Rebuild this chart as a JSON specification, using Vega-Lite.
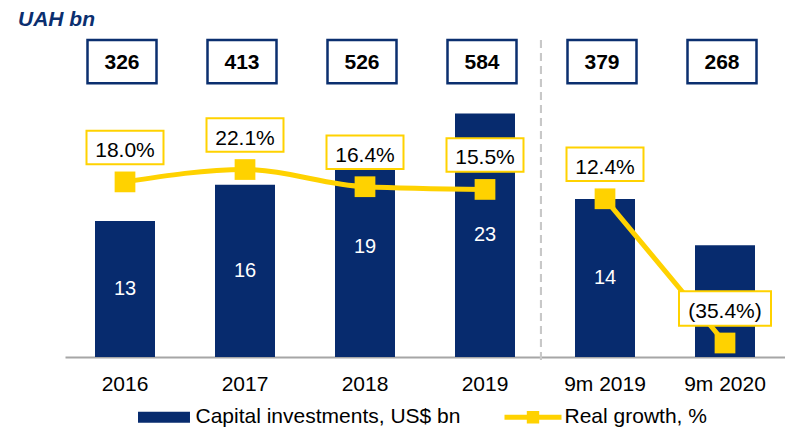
{
  "$schema": "https://vega.github.io/schema/vega-lite/v6.json",
  "width": 720,
  "height": 317,
  "autosize": {"type": "none"},
  "padding": {"left": 65, "top": 40, "right": 0, "bottom": 71},
  "background": "white",
  "config": {"view": {"stroke": null}, "font": "Liberation Sans"},
  "title": {"text": "UAH bn", "anchor": "start", "dx": -47, "dy": 22, "offset": 14, "baseline": "alphabetic", "font": "Liberation Sans", "fontSize": 21, "fontWeight": "bold", "fontStyle": "italic", "color": "#0B2F6F"},
  "data": {"values": [
    {"cat": "2016", "uah": 326, "usd": 13, "growth": 18.0, "glabel": "18.0%", "period": "annual"},
    {"cat": "2017", "uah": 413, "usd": 16, "growth": 22.1, "glabel": "22.1%", "period": "annual"},
    {"cat": "2018", "uah": 526, "usd": 19, "growth": 16.4, "glabel": "16.4%", "period": "annual"},
    {"cat": "2019", "uah": 584, "usd": 23, "growth": 15.5, "glabel": "15.5%", "period": "annual"},
    {"cat": "9m 2019", "uah": 379, "usd": 14, "growth": 12.4, "glabel": "12.4%", "period": "9m"},
    {"cat": "9m 2020", "uah": 268, "usd": null, "growth": -35.4, "glabel": "(35.4%)", "period": "9m"}
  ]},
  "encoding": {
    "x": {"field": "cat", "type": "nominal", "sort": null,
      "scale": {"paddingInner": 0.5, "paddingOuter": 0.25},
      "axis": {"title": null, "labelAngle": 0, "labelFontSize": 21, "labelColor": "#000000", "labelFont": "Liberation Sans", "ticks": false, "tickSize": 0, "labelPadding": 16, "domainColor": "#A6A6A6", "domainWidth": 2, "grid": false}}
  },
  "layer": [
    {
      "mark": {"type": "bar"},
      "encoding": {
        "y": {"field": "uah", "type": "quantitative", "scale": {"domain": [0, 760], "nice": false, "zero": false}, "axis": null},
        "color": {"datum": "Capital investments, US$ bn",
          "scale": {"domain": ["Capital investments, US$ bn", "Real growth, %"], "range": ["#072B6E", "#FFD200"]},
          "legend": {"orient": "none", "legendX": 70.5, "legendY": 348.5, "direction": "horizontal", "title": null, "padding": 0, "columnPadding": 44, "labelOffset": 3, "labelFontSize": 21, "labelFont": "Liberation Sans", "labelColor": "#000000", "labelLimit": 500, "symbolSize": 3249,
            "encode": {"symbols": {"update": {
              "shape": {"signal": "datum.value === 'Real growth, %' ? 'M-1,-0.088H-0.2175V-0.2175H0.2175V-0.088H1V0.088H0.2175V0.2175H-0.2175V0.088H-1Z' : 'M-0.912,-0.193H0.912V0.193H-0.912Z'"},
              "fill": {"signal": "datum.value === 'Real growth, %' ? '#FFD200' : '#072B6E'"},
              "stroke": {"value": "transparent"},
              "strokeWidth": {"value": 0},
              "opacity": {"value": 1},
              "size": {"value": 3249}
            }}}}}
      }
    },
    {
      "transform": [{"filter": "isValid(datum.usd)"}],
      "mark": {"type": "text", "color": "#FFFFFF", "fontSize": 20, "font": "Liberation Sans", "baseline": "middle"},
      "encoding": {
        "y": {"field": "uah", "type": "quantitative", "stack": "zero", "bandPosition": 0.5, "scale": {"domain": [0, 760], "nice": false, "zero": false}, "axis": null},
        "text": {"field": "usd", "type": "quantitative"}
      }
    },
    {
      "mark": {"type": "line", "interpolate": "monotone", "strokeWidth": 5, "strokeCap": "round"},
      "encoding": {
        "y": {"field": "growth", "type": "quantitative", "scale": {"domain": [-40.04, 65.03], "nice": false, "zero": false}, "axis": null},
        "detail": {"field": "period"},
        "color": {"datum": "Real growth, %"}
      }
    },
    {
      "mark": {"type": "point", "shape": "square", "filled": true, "size": 430, "opacity": 1},
      "encoding": {
        "y": {"field": "growth", "type": "quantitative", "scale": {"domain": [-40.04, 65.03], "nice": false, "zero": false}, "axis": null},
        "color": {"datum": "Real growth, %"}
      }
    },
    {
      "mark": {"type": "point", "filled": true, "fill": "#FFFFFF", "stroke": "#FFD200", "strokeWidth": 2, "opacity": 1, "yOffset": -34.5},
      "encoding": {
        "y": {"field": "growth", "type": "quantitative", "scale": {"domain": [-40.04, 65.03], "nice": false, "zero": false}, "axis": null},
        "shape": {"condition": {"test": "datum.growth < 0", "value": "M-1,-0.375H1V0.375H-1Z"}, "value": "M-1,-0.435H1V0.435H-1Z"},
        "size": {"condition": {"test": "datum.growth < 0", "value": 8464}, "value": 5929}
      }
    },
    {
      "mark": {"type": "text", "color": "#000000", "fontSize": 21, "font": "Liberation Sans", "baseline": "middle", "yOffset": -31},
      "encoding": {
        "y": {"field": "growth", "type": "quantitative", "scale": {"domain": [-40.04, 65.03], "nice": false, "zero": false}, "axis": null},
        "text": {"field": "glabel", "type": "nominal"}
      }
    },
    {
      "mark": {"type": "bar", "width": 69, "xOffset": -3, "fill": "#FFFFFF", "stroke": "#0B2F6F", "strokeWidth": 2.5},
      "encoding": {
        "y": {"datum": 760, "type": "quantitative", "scale": {"domain": [0, 760], "nice": false, "zero": false}, "axis": null},
        "y2": {"datum": 656.2}
      }
    },
    {
      "mark": {"type": "text", "color": "#000000", "fontSize": 21, "fontWeight": "bold", "font": "Liberation Sans", "baseline": "middle", "xOffset": -3},
      "encoding": {
        "y": {"datum": 705.6, "type": "quantitative", "scale": {"domain": [0, 760], "nice": false, "zero": false}, "axis": null},
        "text": {"field": "uah", "type": "quantitative"}
      }
    },
    {
      "mark": {"type": "rule", "color": "#C8C8C8", "strokeWidth": 2, "strokeDash": [8, 5], "y2Offset": 8},
      "encoding": {
        "x": {"datum": "2019", "bandPosition": 1.433},
        "y": {"datum": 760, "type": "quantitative", "scale": {"domain": [0, 760], "nice": false, "zero": false}, "axis": null},
        "y2": {"datum": 0}
      }
    }
  ],
  "resolve": {"scale": {"y": "independent"}}
}
